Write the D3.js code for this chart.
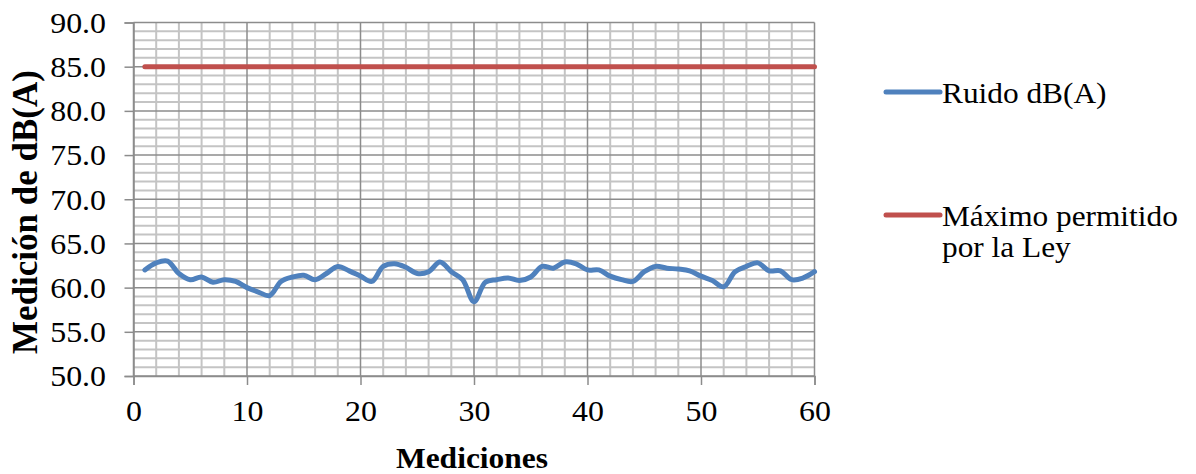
<!DOCTYPE html>
<html>
<head>
<meta charset="utf-8">
<script src="https://cdn.jsdelivr.net/npm/d3@7"></script>
<style>
  body { margin: 0; background: #fff; }
  text { font-family: "Liberation Serif", "Times New Roman", serif; fill: #000; }
</style>
</head>
<body>
<div class="chart"></div>
<script>
// Ruido dB(A), one value per measurement (1..60)
const ruido = [
  62.0, 62.8, 63.0, 61.6, 60.9, 61.2, 60.6, 60.9, 60.7, 60.0,
  59.5, 59.1, 60.7, 61.2, 61.4, 60.9, 61.6, 62.4, 61.9, 61.3,
  60.7, 62.4, 62.7, 62.3, 61.6, 61.8, 62.9, 61.8, 60.9, 58.4,
  60.6, 60.9, 61.1, 60.8, 61.2, 62.4, 62.2, 62.9, 62.7, 62.0,
  62.0, 61.3, 60.9, 60.7, 61.8, 62.4, 62.2, 62.1, 61.9, 61.3,
  60.8, 60.1, 61.8, 62.4, 62.8, 61.9, 61.9, 60.9, 61.1, 61.8
];
// Máximo permitido por la Ley
const maximo = [
  85, 85, 85, 85, 85, 85, 85, 85, 85, 85,
  85, 85, 85, 85, 85, 85, 85, 85, 85, 85,
  85, 85, 85, 85, 85, 85, 85, 85, 85, 85,
  85, 85, 85, 85, 85, 85, 85, 85, 85, 85,
  85, 85, 85, 85, 85, 85, 85, 85, 85, 85,
  85, 85, 85, 85, 85, 85, 85, 85, 85, 85
];
const xTicks = [0, 10, 20, 30, 40, 50, 60];
const yTicks = [50, 55, 60, 65, 70, 75, 80, 85, 90];
const seriesNames = ["Ruido dB(A)", "Máximo permitido", "por la Ley"];

const W = 1196, H = 474;
const margin = { top: 22.5, right: 381.5, bottom: 98, left: 133.5 };
const width = W - margin.left - margin.right;
const height = H - margin.top - margin.bottom;
const sx = "scale(1.1,1)"; // the reference text is slightly wide

const svg = d3
  .select(".chart")
  .append("svg")
  .attr("width", W)
  .attr("height", H);

const g = svg
  .append("g")
  .attr("transform", "translate(" + margin.left + "," + margin.top + ")");

const xScale = d3.scaleLinear().domain([0, 60]).range([0, width]);
const yScale = d3.scaleLinear().domain([50, 90]).range([height, 0]);

// minor grid
g.append("g")
  .selectAll("line")
  .data(d3.range(50, 91, 1).filter((v) => v % 5 !== 0))
  .enter()
  .append("line")
  .attr("x1", 0)
  .attr("x2", width)
  .attr("y1", (d) => yScale(d))
  .attr("y2", (d) => yScale(d))
  .attr("stroke", "#c4c4c4")
  .attr("stroke-width", 2);

g.append("g")
  .selectAll("line")
  .data(d3.range(0, 61, 2).filter((v) => v % 10 !== 0))
  .enter()
  .append("line")
  .attr("x1", (d) => xScale(d))
  .attr("x2", (d) => xScale(d))
  .attr("y1", 0)
  .attr("y2", height)
  .attr("stroke", "#c4c4c4")
  .attr("stroke-width", 2);

// major grid
g.append("g")
  .selectAll("line")
  .data(yTicks)
  .enter()
  .append("line")
  .attr("x1", 0)
  .attr("x2", width)
  .attr("y1", (d) => yScale(d))
  .attr("y2", (d) => yScale(d))
  .attr("stroke", "#8c8c8c")
  .attr("stroke-width", 1.5);

g.append("g")
  .selectAll("line")
  .data(xTicks)
  .enter()
  .append("line")
  .attr("x1", (d) => xScale(d))
  .attr("x2", (d) => xScale(d))
  .attr("y1", 0)
  .attr("y2", height)
  .attr("stroke", "#8c8c8c")
  .attr("stroke-width", 1.5);

// axes
const xAxis = g
  .append("g")
  .attr("transform", "translate(0," + height + ")")
  .call(d3.axisBottom(xScale).tickValues(xTicks).tickSize(9).tickPadding(15).tickFormat((d) => d));

const yAxis = g
  .append("g")
  .call(d3.axisLeft(yScale).tickValues(yTicks).tickSize(9).tickPadding(16).tickFormat(d3.format(".1f")));

[xAxis, yAxis].forEach((ax) => {
  ax.select(".domain").attr("stroke", "#8c8c8c").attr("stroke-width", 1.5);
  ax.selectAll(".tick line").attr("stroke", "#8c8c8c").attr("stroke-width", 1.5);
  ax.selectAll("text")
    .attr("font-family", "Liberation Serif")
    .attr("font-size", 29)
    .attr("fill", "#000")
    .attr("transform", sx);
});
yAxis.selectAll("text").attr("dy", "0.34em");

// lines
const line = d3
  .line()
  .x((d, i) => xScale(i + 1))
  .y((d) => yScale(d));

g.append("path")
  .datum(maximo)
  .attr("d", line)
  .attr("fill", "none")
  .attr("stroke", "#c0504d")
  .attr("stroke-width", 5)
  .attr("stroke-linecap", "round");

g.append("path")
  .datum(ruido)
  .attr("d", line.curve(d3.curveCatmullRom.alpha(0.5)))
  .attr("fill", "none")
  .attr("stroke", "#4f81bd")
  .attr("stroke-width", 5)
  .attr("stroke-linecap", "round")
  .attr("stroke-linejoin", "round");

// axis titles
svg
  .append("g")
  .attr("transform", "translate(472,468)")
  .append("text")
  .attr("text-anchor", "middle")
  .attr("font-size", 30)
  .attr("font-weight", "bold")
  .attr("transform", "scale(1.05,1)")
  .text("Mediciones");

svg
  .append("g")
  .attr("transform", "translate(37,212) rotate(-90)")
  .append("text")
  .attr("text-anchor", "middle")
  .attr("font-size", 35)
  .attr("font-weight", "bold")
  .text("Medición de dB(A)");

// legend
const legend = svg.append("g");
const legendItems = [
  { color: "#4f81bd", y: 92, lines: [seriesNames[0]] },
  { color: "#c0504d", y: 215, lines: [seriesNames[1], seriesNames[2]] },
];
legendItems.forEach((item) => {
  legend
    .append("line")
    .attr("x1", 886)
    .attr("x2", 940)
    .attr("y1", item.y)
    .attr("y2", item.y)
    .attr("stroke", item.color)
    .attr("stroke-width", 5)
    .attr("stroke-linecap", "round");
  item.lines.forEach((t, k) => {
    legend
      .append("g")
      .attr("transform", "translate(942," + (item.y + 11 + k * 31) + ")")
      .append("text")
      .attr("font-size", 28.5)
      .attr("transform", sx)
      .text(t);
  });
});
</script>
</body>
</html>
